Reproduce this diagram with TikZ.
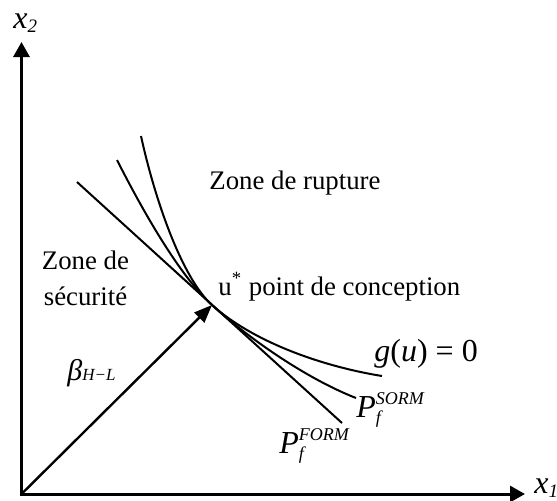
\documentclass[tikz,border=0pt]{standalone}
\usepackage{fontspec}
\setmainfont{Liberation Serif}
\usetikzlibrary{arrows.meta}

% indexed probability label: P with subscript f and a method as superscript
\newcommand{\probf}[1]{\textit{P}\rlap{\raisebox{-3pt}{\fontsize{9}{10}\selectfont\itshape f}}%
  \raisebox{6.3pt}{\fontsize{9}{10}\selectfont\itshape #1}}

\begin{document}
\begin{tikzpicture}[x=0.5pt, y=-0.5pt,
  axis/.style  = {line width=1.5pt,
                  {Triangle[length=7.5pt,width=8pt]}-{Triangle[length=7.5pt,width=8pt]}},
  curve/.style = {line width=1pt},
  vec/.style   = {line width=1.2pt, -{Triangle[length=9pt,width=7pt]}},
  lbl/.style   = {inner sep=0pt, font=\fontsize{13.4}{18}\selectfont},
  big/.style   = {inner sep=0pt, font=\fontsize{16}{19}\selectfont}
]
\useasboundingbox (0,0) rectangle (557,500);

% ,  Key points ,
\coordinate (O)     at (21.5,494);
\coordinate (x2end) at (21.5,42);
\coordinate (x1end) at (525,494);
\coordinate (ustar) at (212,305);

% ,  Curve end points ,
\coordinate (formA) at (77,182);
\coordinate (formB) at (342,423);
\coordinate (sormA) at (117,160);
\coordinate (sormB) at (356,398);
\coordinate (gA)    at (141,136);
\coordinate (gB)    at (382,376);

% ,  Axes ,
\draw[axis] (x2end) -- (O) -- (x1end);

% ,  Limit state and its approximations ,
\draw[curve] (formA) -- (formB);
\draw[curve] (sormA) .. controls (150,225) and (184,280) .. (ustar)
                     .. controls (247,337) and (305,378) .. (sormB);
\draw[curve] (gA) .. controls (155,200) and (182,278) .. (ustar)
                  .. controls (252,341) and (320,366) .. (gB);

% ,  Reliability index ,
\draw[vec] (O) -- (ustar);

% ,  Labels ,
\node[big, anchor=base west] (x2lab) at (13,28)
  {\textit{x}\raisebox{-2pt}{\fontsize{9.5}{10}\selectfont\itshape 2}};
\node[big, anchor=base west] (x1lab) at (534,493)
  {\textit{x}\raisebox{-2pt}{\fontsize{9.5}{10}\selectfont\itshape 1}};
\node[lbl, anchor=base west] (rupt) at (209,189) {Zone de rupture};
\node[lbl, anchor=north, align=center] (secu) at (85.5,250) {Zone de\\sécurité};
\node[lbl, anchor=base west] (ulab) at (218,295) {u\textsuperscript{*} point de conception};
\node[big, anchor=base west] (glab) at (374,361) {\textit{g}(\textit{u}) = 0};
\node[big, anchor=base west] (sorm) at (356,417) {\probf{SORM}};
\node[big, anchor=base west] (form) at (279,453) {\probf{FORM}};
\node[inner sep=0pt, anchor=base west, font=\fontsize{15}{18}\selectfont] (beta) at (67,380)
  {\textit{β}{\fontsize{8.5}{10}\selectfont\itshape H−L}};

\end{tikzpicture}
\end{document}
